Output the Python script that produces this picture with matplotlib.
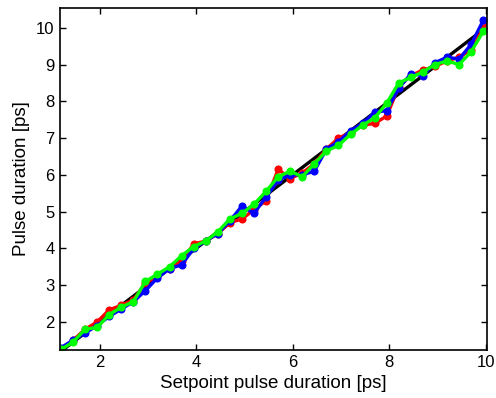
import numpy as np
import matplotlib
matplotlib.use('Agg')
import matplotlib.pyplot as plt

plt.rcParams['font.family'] = ['Liberation Sans', 'DejaVu Sans']

# setpoint pulse durations [ps]
setpoint = [1.20, 1.45, 1.70, 1.95, 2.20, 2.45, 2.70, 2.95, 3.20, 3.45,
            3.70, 3.95, 4.20, 4.45, 4.70, 4.95, 5.20, 5.45, 5.70, 5.95,
            6.20, 6.45, 6.70, 6.95, 7.20, 7.45, 7.70, 7.95, 8.20, 8.45,
            8.70, 8.95, 9.20, 9.45, 9.70, 9.95, 10.20]

# measured pulse durations [ps]
red = [1.25, 1.50, 1.80, 2.00, 2.33, 2.45, 2.60, 3.05, 3.25, 3.45,
       3.65, 4.12, 4.20, 4.40, 4.70, 4.80, 5.05, 5.30, 6.15, 5.90,
       6.05, 6.30, 6.70, 7.00, 7.15, 7.35, 7.40, 7.60, 8.40, 8.70,
       8.85, 8.95, 9.10, 9.20, 9.40, 10.00, 10.40]
blue = [1.30, 1.50, 1.70, 1.90, 2.15, 2.35, 2.55, 2.85, 3.20, 3.45,
        3.55, 4.00, 4.20, 4.40, 4.75, 5.15, 4.95, 5.40, 5.85, 6.00,
        6.00, 6.10, 6.70, 6.90, 7.20, 7.40, 7.70, 7.75, 8.35, 8.75,
        8.70, 9.05, 9.20, 9.15, 9.55, 10.20, 10.30]
green = [1.25, 1.45, 1.80, 1.85, 2.20, 2.40, 2.55, 3.10, 3.30, 3.50,
         3.80, 4.05, 4.20, 4.45, 4.80, 4.95, 5.20, 5.55, 5.95, 6.10,
         5.95, 6.30, 6.65, 6.80, 7.10, 7.35, 7.55, 7.95, 8.50, 8.65,
         8.80, 9.00, 9.10, 9.00, 9.35, 9.90, 10.15]

fig = plt.figure(figsize=(4.96, 3.98), dpi=100)
ax = fig.add_axes([0.121, 0.121, 0.861, 0.859])

ends = [setpoint[0], setpoint[-1]]
ax.plot(ends, ends, color='black', lw=2.4, zorder=1)
for ys, c in [(red, '#ff0000'), (blue, '#0000ff'), (green, '#00ff00')]:
    ax.plot(setpoint, ys, color=c, lw=2.4, marker='o', ms=4.8, zorder=2)

ax.set_xlim(1.18, 10.03)
ax.set_ylim(1.24, 10.54)
ax.set_xticks([2, 4, 6, 8, 10])
ax.set_yticks(range(2, 11))
ax.tick_params(direction='in', top=True, right=True, labelsize=12,
               length=4, width=1, pad=4)
for s in ax.spines.values():
    s.set_linewidth(1.2)
ax.set_xlabel('Setpoint pulse duration [ps]', fontsize=13.5, labelpad=3)
ax.set_ylabel('Pulse duration [ps]', fontsize=13.5, labelpad=4)

fig.savefig('out.png', dpi=100)
